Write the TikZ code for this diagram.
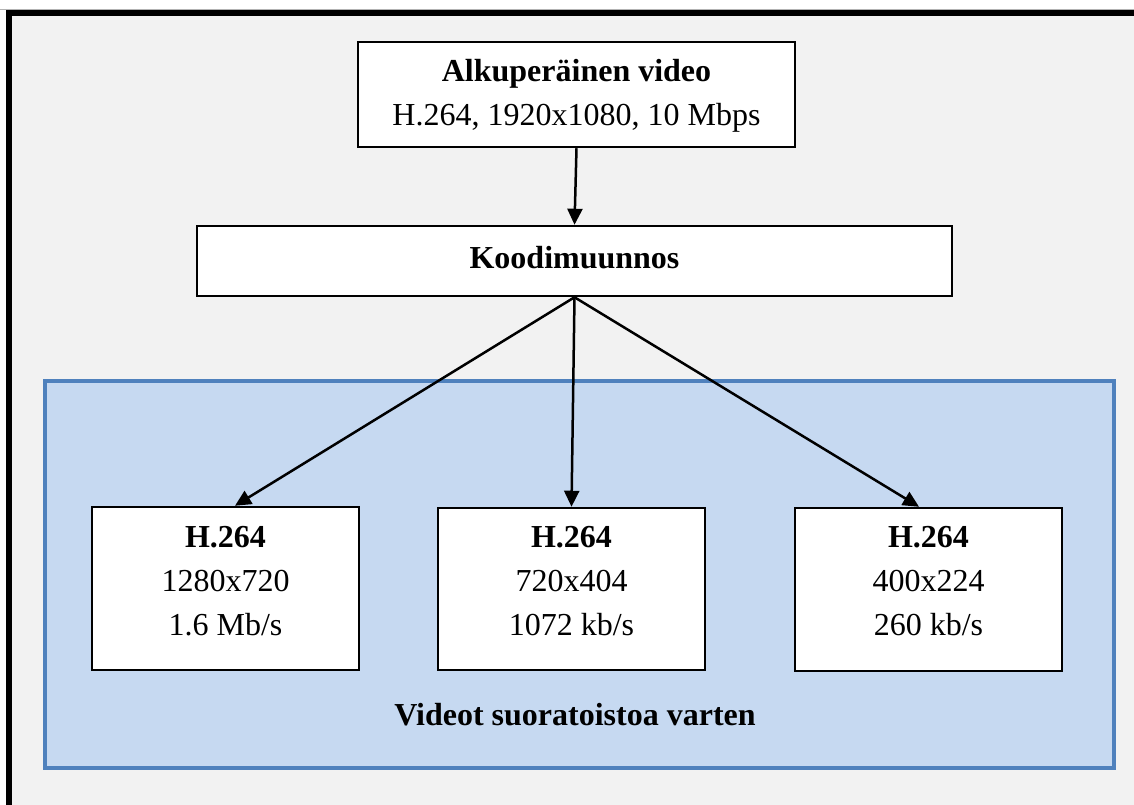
\documentclass[tikz,border=0pt]{standalone}
\usepackage{fontspec}
\setmainfont{Liberation Serif}
\usetikzlibrary{arrows.meta,calc}
\definecolor{panelgray}{HTML}{F2F2F2}
\definecolor{groupfill}{HTML}{C6D9F1}
\definecolor{groupline}{HTML}{4F81BD}
\tikzset{
  box/.style={draw=black, line width=2.5pt, fill=white, inner sep=0pt},
  boxtext/.style={align=center, inner sep=0pt, font=\fontsize{32}{44}\selectfont},
  flow/.style={line width=2.5pt, -{Triangle[length=16pt,width=15pt]}},
}
\begin{document}
\begin{tikzpicture}[x=1pt,y=-1pt]
  \useasboundingbox (0,0) rectangle (1134,805);
  % page background and frame
  \fill[panelgray] (9,13) rectangle (1134,805);
  \draw[gray!60, line width=1pt] (0,9.5) -- (1134,9.5);
  \draw[black, line width=6pt] (9,805) -- (9,13) -- (1134,13);
  % group of output videos
  \draw[groupline, fill=groupfill, line width=4pt] (45,381) rectangle (1114,768);
  \node[boxtext, font=\fontsize{32}{44}\selectfont\bfseries, anchor=base] (grp) at (575,725)
    {Videot suoratoistoa varten};

  % source and transcoder
  \node[box, minimum width=437pt, minimum height=105pt] (src) at (576.5,94.5) {};
  \node[boxtext, anchor=base] (srcA) at (576.5,82) {\textbf{Alkuperäinen video}};
  \node[boxtext, anchor=base] (srcB) at (576.5,126) {H.264, 1920x1080, 10 Mbps};
  \node[box, minimum width=755pt, minimum height=70pt] (kood) at (574.5,261) {};
  \node[boxtext, anchor=base] (koodT) at (574.5,268) {\textbf{Koodimuunnos}};

  % output renditions (text anchored on the baseline of the last line)
  \node[box, minimum width=267pt, minimum height=163pt] (v1) at (225.5,588.5) {};
  \node[boxtext, anchor=base] (v1T) at (225.5,635)
    {\textbf{H.264}\\1280x720\\1.6 Mb/s};
  \node[box, minimum width=267pt, minimum height=162pt] (v2) at (571.5,589) {};
  \node[boxtext, anchor=base] (v2T) at (571.5,635)
    {\textbf{H.264}\\720x404\\1072 kb/s};
  \node[box, minimum width=267pt, minimum height=163pt] (v3) at (928.5,589.5) {};
  \node[boxtext, anchor=base] (v3T) at (928.5,635)
    {\textbf{H.264}\\400x224\\260 kb/s};

  % arrow end points on the box tops
  \coordinate (t1) at ($(v1.north)+(9.5,0)$);
  \coordinate (t3) at ($(v3.north)+(-9.5,0)$);

  % connectors
  \draw[flow] (src.south) -- (kood.north);
  \draw[flow] (kood.south) -- (t1);
  \draw[flow] (kood.south) -- (v2.north);
  \draw[flow] (kood.south) -- (t3);
\end{tikzpicture}
\end{document}
